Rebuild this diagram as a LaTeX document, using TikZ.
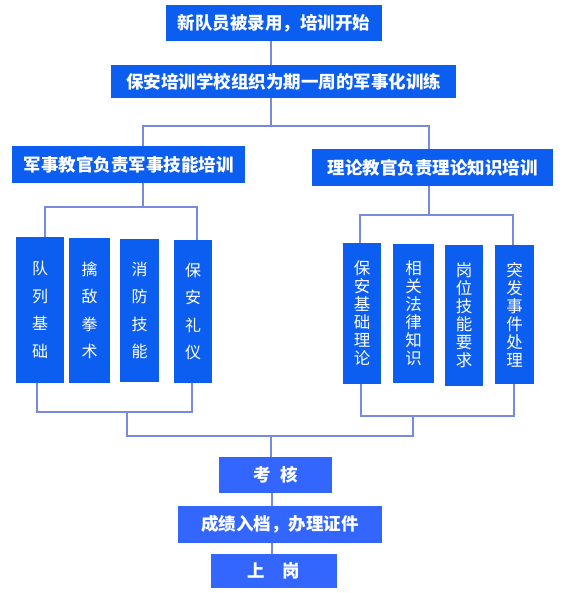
\documentclass[tikz,border=0pt]{standalone}
\usepackage{fontspec}
\newfontfamily\cjk{Noto Sans CJK SC}
\definecolor{boxblue}{RGB}{12,94,240}
\definecolor{lowblue}{RGB}{51,102,255}
\definecolor{linkblue}{RGB}{118,138,222}

\begin{document}
\begin{tikzpicture}[
  x=1pt, y=-1pt,
  hbox/.style={fill=boxblue, text=white, inner sep=0pt, align=center,
    font=\cjk\bfseries\fontsize{17.5}{20}\selectfont},
  lbox/.style={hbox, fill=lowblue},
  vboxa/.style={fill=boxblue, text=white, inner sep=0pt, align=center,
    font=\cjk\fontsize{16}{27.5}\selectfont},
  vboxb/.style={vboxa, font=\cjk\fontsize{16.5}{18}\selectfont},
  link/.style={draw=linkblue, line width=1.2pt}
]
\useasboundingbox (0,0) rectangle (570,593);

%% ===== upper chain =====
\node[hbox, minimum width=216pt, minimum height=36pt] (start) at (274,23) {新队员被录用，培训开始};
\node[hbox, minimum width=345pt, minimum height=33pt] (drill) at (283.5,81.5) {保安培训学校组织为期一周的军事化训练};
\node[hbox, minimum width=233pt, minimum height=37pt] (mil) at (128.5,164.5) {军事教官负责军事技能培训};
\node[hbox, minimum width=241pt, minimum height=37pt] (thy) at (432.5,167.5) {理论教官负责理论知识培训};

%% ===== military columns =====
\node[vboxa, minimum width=48pt, minimum height=146pt] (dui) at (40,310) {队\\列\\基\\础};
\node[vboxa, minimum width=41pt, minimum height=145pt] (qin) at (89.5,310.5) {擒\\敌\\拳\\术};
\node[vboxa, minimum width=39pt, minimum height=143pt] (xiao) at (139.5,310.5) {消\\防\\技\\能};
\node[vboxa, minimum width=38pt, minimum height=143pt] (li) at (193,311.5) {保\\安\\礼\\仪};

%% ===== theory columns =====
\node[vboxb, minimum width=38pt, minimum height=141pt] (jichu) at (362,313.5) {保\\安\\基\\础\\理\\论};
\node[vboxb, minimum width=41pt, minimum height=139pt] (falv) at (413.5,313.5) {相\\关\\法\\律\\知\\识};
\node[vboxb, minimum width=38pt, minimum height=141pt] (gangwei) at (464,315.5) {岗\\位\\技\\能\\要\\求};
\node[vboxb, minimum width=39pt, minimum height=139pt] (tufa) at (514.5,314.5) {突\\发\\事\\件\\处\\理};

%% ===== lower chain =====
\node[lbox, minimum width=113pt, minimum height=36pt] (exam) at (275.5,475) {考\hspace{10pt}核};
\node[lbox, minimum width=204pt, minimum height=37pt] (file) at (280,524.5) {成绩入档，办理证件};
\node[lbox, minimum width=126pt, minimum height=34pt] (post) at (274,571) {上\hspace{18pt}岗};

%% ===== junctions =====
\coordinate (busA) at (271,126);
\coordinate (busML) at (143,126);
\coordinate (busMR) at (429,126);
\coordinate (busB) at (143,207);
\coordinate (busBL) at (45,207);
\coordinate (busBR) at (197,207);
\coordinate (busC) at (429,215);
\coordinate (busCL) at (360,215);
\coordinate (busCR) at (513,215);
\coordinate (busD) at (127,412);
\coordinate (busDL) at (37,412);
\coordinate (busDR) at (192,412);
\coordinate (busE) at (413,416);
\coordinate (busEL) at (361,416);
\coordinate (busER) at (514,416);
\coordinate (busF) at (271,436);

%% ===== connectors =====
\draw[link] (busA |- start.south) -- (busA |- drill.north);
\draw[link] (busA |- drill.south) -- (busA);
\draw[link] (busML |- mil.north) -- (busML) -- (busMR) -- (busMR |- thy.north);
\draw[link] (busB |- mil.south) -- (busB);
\draw[link] (busBL |- dui.north) -- (busBL) -- (busBR) -- (busBR |- li.north);
\draw[link] (busC |- thy.south) -- (busC);
\draw[link] (busCL |- jichu.north) -- (busCL) -- (busCR) -- (busCR |- tufa.north);
\draw[link] (busDL |- dui.south) -- (busDL) -- (busDR) -- (busDR |- li.south);
\draw[link] (busEL |- jichu.south) -- (busEL) -- (busER) -- (busER |- tufa.south);
\draw[link] (busD) -- (busD |- busF) -- (busE |- busF) -- (busE);
\draw[link] (busF) -- (busF |- exam.north);
\draw[link] (272,0 |- exam.south) -- (272,0 |- file.north);
\draw[link] (272,0 |- file.south) -- (272,0 |- post.north);
\end{tikzpicture}
\end{document}
